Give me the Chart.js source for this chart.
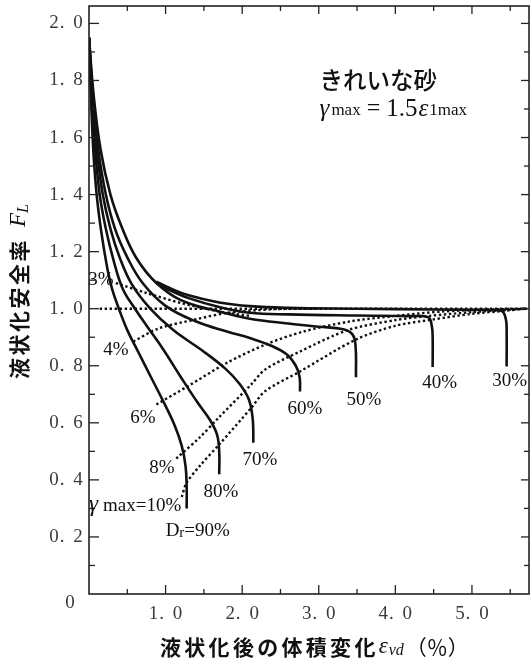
<!DOCTYPE html>
<html>
<head>
<meta charset="utf-8">
<script src="https://cdn.jsdelivr.net/npm/chart.js@4.4.1/dist/chart.umd.min.js"></script>
<style>
  html, body { margin: 0; padding: 0; background: #fff; }
  canvas { display: block; }
</style>
</head>
<body>
<canvas id="chart" width="530" height="663"></canvas>
<script>
// Dr curves (x = volumetric strain %, y = FL)
const dr90X = [0, 0.025, 0.055, 0.1, 0.16, 0.24, 0.3, 0.39, 0.5, 0.64, 0.8, 0.97, 1.12, 1.21, 1.26, 1.275, 1.275];
const dr90Y = [1.95, 1.75, 1.56, 1.40, 1.27, 1.14, 1.07, 1.0, 0.925, 0.85, 0.765, 0.675, 0.59, 0.52, 0.45, 0.38, 0.30];
const dr80X = [0, 0.035, 0.08, 0.14, 0.22, 0.32, 0.44, 0.6, 0.78, 0.97, 1.2, 1.42, 1.58, 1.67, 1.70, 1.70];
const dr80Y = [1.95, 1.75, 1.56, 1.40, 1.28, 1.17, 1.07, 1.0, 0.93, 0.857, 0.76, 0.67, 0.61, 0.56, 0.5, 0.42];
const dr70X = [0, 0.04, 0.1, 0.18, 0.28, 0.4, 0.56, 0.8, 1.1, 1.47, 1.78, 1.97, 2.09, 2.135, 2.145, 2.145];
const dr70Y = [1.95, 1.75, 1.56, 1.40, 1.28, 1.18, 1.085, 1.0, 0.925, 0.855, 0.79, 0.735, 0.68, 0.62, 0.57, 0.53];
const dr60X = [0, 0.05, 0.12, 0.22, 0.34, 0.5, 0.7, 1.0, 1.4, 1.8, 2.1, 2.38, 2.58, 2.7, 2.75, 2.755];
const dr60Y = [1.95, 1.75, 1.56, 1.40, 1.28, 1.18, 1.09, 1.01, 0.955, 0.92, 0.897, 0.87, 0.84, 0.8, 0.76, 0.71];
const dr50X = [0, 0.06, 0.15, 0.28, 0.43, 0.62, 0.88, 1.2, 1.7, 2.1, 2.6, 3.0, 3.32, 3.44, 3.48, 3.486];
const dr50Y = [1.95, 1.75, 1.56, 1.40, 1.285, 1.177, 1.09, 1.03, 0.99, 0.965, 0.948, 0.937, 0.928, 0.91, 0.87, 0.76];
const dr40X = [0.88, 1.03, 1.3, 1.7, 2.1, 2.6, 3.5, 4.2, 4.43, 4.475, 4.487, 4.487];
const dr40Y = [1.09, 1.068, 1.037, 1.006, 0.986, 0.98, 0.976, 0.974, 0.97, 0.94, 0.9, 0.796];
const dr30X = [0.88, 1.03, 1.3, 1.7, 2.1, 2.6, 3.5, 4.5, 5.3, 5.4, 5.445, 5.453, 5.453];
const dr30Y = [1.095, 1.075, 1.047, 1.022, 1.009, 1.003, 1.0, 0.997, 0.995, 0.99, 0.96, 0.92, 0.797];

// gamma_max contours (dotted)
const g3X = [0.35, 0.75, 1.2, 1.7, 2.1];
const g3Y = [1.09, 1.055, 1.02, 0.99, 0.975];
const g4X = [0.58, 0.9, 1.4, 1.8, 2.4, 3.0];
const g4Y = [0.885, 0.93, 0.963, 0.985, 0.998, 1.0];
const g6X = [0.88, 1.3, 1.8, 2.3, 2.8, 3.4, 4.0, 4.6, 5.2, 5.7];
const g6Y = [0.664, 0.73, 0.81, 0.874, 0.92, 0.955, 0.975, 0.99, 0.997, 1.0];
const g8X = [1.14, 1.45, 1.7, 2.12, 2.3, 2.755, 3.38, 4.0, 4.45, 5.0, 5.7];
const g8Y = [0.475, 0.55, 0.62, 0.735, 0.787, 0.85, 0.925, 0.96, 0.975, 0.988, 1.0];
const g10X = [1.21, 1.275, 1.45, 1.7, 2.12, 2.3, 2.755, 3.486, 4.0, 4.487, 5.0, 5.453, 5.7];
const g10Y = [0.34, 0.39, 0.45, 0.524, 0.653, 0.711, 0.78, 0.892, 0.94, 0.962, 0.982, 0.993, 1.0];

// FL = 1.0 reference
const refX = [0.14, 5.74];
const refY = [1.0, 1.0];

// axis ticks
const xTickValues = [1, 2, 3, 4, 5];
const xTickLabels = ['1. 0', '2. 0', '3. 0', '4. 0', '5. 0'];
const xMinorValues = [0.5, 1.5, 2.5, 3.5, 4.5, 5.5];
const yTickValues = [0.2, 0.4, 0.6, 0.8, 1.0, 1.2, 1.4, 1.6, 1.8, 2.0];
const yTickLabels = ['0. 2', '0. 4', '0. 6', '0. 8', '1. 0', '1. 2', '1. 4', '1. 6', '1. 8', '2. 0'];
const yMinorValues = [0.1, 0.3, 0.5, 0.7, 0.9, 1.1, 1.3, 1.5, 1.7, 1.9];

const SERIF = '"Liberation Serif", "DejaVu Serif", serif';
const CJK = '"Noto Sans CJK JP", "Noto Sans CJK SC", sans-serif';

function pts(xs, ys) {
    return xs.map((v, i) => ({ x: v, y: ys[i] }));
}

function solid(xs, ys) {
    return { data: pts(xs, ys), borderColor: '#111', borderWidth: 2.6, tension: 0.4 };
}

function dotted(xs, ys) {
    return { data: pts(xs, ys), borderColor: '#111', borderWidth: 2.4, borderDash: [2.4, 2.6], tension: 0.3 };
}

function text(ctx, s, x, y, font, align = 'left', base = 'middle') {
    ctx.font = font;
    ctx.textAlign = align;
    ctx.textBaseline = base;
    ctx.fillText(s, x, y);
    return ctx.measureText(s).width;
}

// draw a string with a fixed pitch per character (the tick labels are spaced that way)
function pitched(ctx, s, cx, cy, pitch, font) {
    ctx.font = font;
    ctx.textAlign = 'center';
    ctx.textBaseline = 'middle';
    const start = cx - pitch * s.length / 2 + pitch / 2;
    [...s].forEach((c, i) => ctx.fillText(c, start + i * pitch, cy));
}

const decorations = {
    id: 'decorations',
    afterDraw(chart) {
        const { ctx, chartArea: a } = chart;
        const xs = chart.scales.x, ys = chart.scales.y;
        const line = (x1, y1, x2, y2) => { ctx.beginPath(); ctx.moveTo(x1, y1); ctx.lineTo(x2, y2); ctx.stroke(); };
        ctx.save();

        // frame
        ctx.strokeStyle = '#222';
        ctx.lineWidth = 1.6;
        ctx.strokeRect(a.left, a.top, a.right - a.left, a.bottom - a.top);

        // inward ticks
        ctx.lineWidth = 1.3;
        xTickValues.forEach(v => {
            const p = xs.getPixelForValue(v);
            line(p, a.bottom, p, a.bottom - 9);
            line(p, a.top, p, a.top + 8);
        });
        xMinorValues.forEach(v => {
            const p = xs.getPixelForValue(v);
            line(p, a.bottom, p, a.bottom - 5);
            line(p, a.top, p, a.top + 5);
        });
        yTickValues.forEach(v => {
            const p = ys.getPixelForValue(v);
            line(a.left, p, a.left + 10, p);
            line(a.right, p, a.right - 8, p);
        });
        yMinorValues.forEach(v => {
            const p = ys.getPixelForValue(v);
            line(a.left, p, a.left + 6, p);
            line(a.right, p, a.right - 5, p);
        });

        // tick labels
        ctx.fillStyle = '#3a3a3a';
        const tickFont = '19px ' + SERIF;
        xTickValues.forEach((v, i) => pitched(ctx, xTickLabels[i], xs.getPixelForValue(v), 614, 8, tickFont));
        yTickValues.forEach((v, i) => pitched(ctx, yTickLabels[i], 66, ys.getPixelForValue(v), 8, tickFont));
        pitched(ctx, '0', 70, 603, 8, tickFont);

        // curve labels
        ctx.fillStyle = '#111';
        const lab = '19px ' + SERIF;
        const at = (vx, vy) => [xs.getPixelForValue(vx), ys.getPixelForValue(vy)];
        let p;
        p = at(0.157, 1.101); text(ctx, '3%', p[0], p[1], lab, 'center');
        p = at(0.352, 0.855); text(ctx, '4%', p[0], p[1], lab, 'center');
        p = at(0.705, 0.617); text(ctx, '6%', p[0], p[1], lab, 'center');
        p = at(0.952, 0.442); text(ctx, '8%', p[0], p[1], lab, 'center');
        p = at(1.722, 0.358); text(ctx, '80%', p[0], p[1], lab, 'center');
        p = at(2.231, 0.470); text(ctx, '70%', p[0], p[1], lab, 'center');
        p = at(2.818, 0.649); text(ctx, '60%', p[0], p[1], lab, 'center');
        p = at(3.588, 0.680); text(ctx, '50%', p[0], p[1], lab, 'center');
        p = at(4.579, 0.740); text(ctx, '40%', p[0], p[1], lab, 'center');
        p = at(5.493, 0.747); text(ctx, '30%', p[0], p[1], lab, 'center');

        // gamma_max = 10%
        p = at(0, 0.312);
        let w = text(ctx, 'γ', p[0], p[1], 'italic 23px ' + SERIF);
        text(ctx, 'max=10%', p[0] + w + 5, p[1] + 1, '19px ' + SERIF);

        // Dr = 90%
        p = at(1.275, 0.221);
        w = text(ctx, 'D', p[0] - 21, p[1], lab);
        const w2 = text(ctx, 'r', p[0] - 21 + w, p[1] + 2, '15px ' + SERIF);
        text(ctx, '=90%', p[0] - 21 + w + w2, p[1], lab);

        // title in plot
        p = at(3.01, 1.80);
        text(ctx, 'きれいな砂', p[0], p[1], '500 23.5px ' + CJK);
        p = at(3.01, 1.70);
        let cx = p[0];
        cx += text(ctx, 'γ', cx, p[1], 'italic 25px ' + SERIF) + 2;
        cx += text(ctx, 'max', cx, p[1] + 2, '17px ' + SERIF) + 6;
        cx += text(ctx, '=', cx, p[1], '24px ' + SERIF) + 6;
        cx += text(ctx, '1.5', cx, p[1], '25px ' + SERIF) + 1;
        cx += text(ctx, 'ε', cx, p[1], 'italic 25px ' + SERIF) + 1;
        text(ctx, '1max', cx, p[1] + 2, '17px ' + SERIF);

        // axis titles
        ctx.fillStyle = '#111';
        const titleFont = 'bold 21px ' + CJK;
        let tx = 160;
        [...'液状化後の体積変化'].forEach((c, i) => text(ctx, c, tx + i * 24.3, 647, titleFont));
        tx += 9 * 24.3;
        tx += text(ctx, 'ε', tx, 647, 'italic 23px ' + SERIF) + 1;
        tx += text(ctx, 'vd', tx, 651, 'italic 16px ' + SERIF) + 2;
        text(ctx, '（％）', tx, 647, '21px ' + CJK);

        ctx.save();
        ctx.translate(19, 379);
        ctx.rotate(-Math.PI / 2);
        [...'液状化安全率'].forEach((c, i) => text(ctx, c, i * 23.5, 0, titleFont));
        let ty = 6 * 23.5 + 11;
        ty += text(ctx, 'F', ty, 0, 'italic 23px ' + SERIF);
        text(ctx, 'L', ty, 5, 'italic 16px ' + SERIF);
        ctx.restore();

        ctx.restore();
    }
};

new Chart(document.getElementById('chart'), {
    type: 'scatter',
    data: {
        datasets: [
            solid(dr90X, dr90Y), solid(dr80X, dr80Y), solid(dr70X, dr70Y), solid(dr60X, dr60Y),
            solid(dr50X, dr50Y), solid(dr40X, dr40Y), solid(dr30X, dr30Y),
            dotted(g3X, g3Y), dotted(g4X, g4Y), dotted(g6X, g6Y), dotted(g8X, g8Y), dotted(g10X, g10Y),
            dotted(refX, refY)
        ]
    },
    options: {
        responsive: false,
        animation: false,
        showLine: true,
        layout: { padding: { left: 89, right: 1, top: 6, bottom: 69 } },
        elements: { point: { radius: 0, hoverRadius: 0 } },
        plugins: { legend: { display: false }, tooltip: { enabled: false } },
        scales: {
            x: { type: 'linear', min: 0, max: 5.745, display: false },
            y: { type: 'linear', min: 0, max: 2.061, display: false }
        }
    },
    plugins: [decorations]
});
</script>
</body>
</html>
